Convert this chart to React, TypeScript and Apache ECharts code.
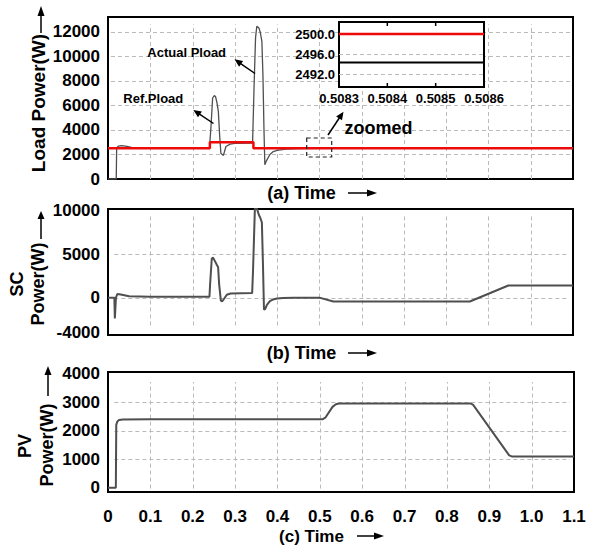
import React, { useEffect, useRef } from "react";
import * as echarts from "echarts";

// ---------- data ----------
const loadTime = [0, 0.0195, 0.0205, 0.025, 0.032, 0.045, 0.06, 0.08, 0.24, 0.2435, 0.2475, 0.2515, 0.2545, 0.258, 0.261, 0.264, 0.267, 0.273, 0.279, 0.289, 0.3, 0.342, 0.3455, 0.349, 0.352, 0.357, 0.36, 0.364, 0.3665, 0.369, 0.371, 0.375, 0.383, 0.391, 0.4, 0.42, 0.45, 0.5, 1.1];
const loadActual = [0, 0, 2550, 2680, 2720, 2650, 2540, 2510, 2500, 4200, 6600, 6800, 6700, 6190, 5510, 3600, 2100, 1920, 2650, 2840, 2900, 2920, 7500, 11500, 12450, 12300, 11980, 11220, 8500, 4000, 1160, 1500, 2000, 2240, 2330, 2430, 2480, 2494, 2494];
const refTime = [0, 0.241, 0.241, 0.344, 0.344, 1.1];
const refPload = [2500, 2500, 3000, 3000, 2500, 2500];

const scTime = [0, 0.015, 0.0162, 0.0175, 0.0188, 0.022, 0.03, 0.05, 0.1, 0.24, 0.2415, 0.2455, 0.2485, 0.253, 0.257, 0.2605, 0.263, 0.267, 0.27, 0.275, 0.281, 0.29, 0.341, 0.343, 0.3475, 0.352, 0.357, 0.36, 0.364, 0.3665, 0.369, 0.372, 0.376, 0.383, 0.39, 0.4, 0.414, 0.44, 0.5, 0.533, 0.856, 0.947, 1.1];
const scPower = [0, 0, -2400, -2400, 0, 420, 350, 150, 100, 100, 1500, 4500, 4600, 4200, 3810, 3500, 1500, -350, -440, -100, 340, 480, 520, 3000, 10300, 10300, 9500, 9220, 8640, 4000, -1400, -1300, -820, -400, -220, -100, -50, 0, 0, -450, -450, 1400, 1400];

const pvTime = [0, 0.0185, 0.0195, 0.022, 0.026, 0.035, 0.1, 0.507, 0.513, 0.53, 0.538, 0.545, 0.856, 0.862, 0.947, 0.953, 0.96, 1.1];
const pvPower = [0, 0, 2200, 2320, 2370, 2390, 2400, 2400, 2450, 2830, 2920, 2950, 2950, 2900, 1130, 1095, 1090, 1090];

const insetTime = [0.5083, 0.5086];
const insetRef = [2500, 2500];
const insetActual = [2494.3, 2494.3];

// ---------- tick labels / grid values ----------
const loadTicks = [0, 2000, 4000, 6000, 8000, 10000, 12000];
const loadGridVals = [2000, 4000, 6000, 8000, 10000, 12000];
const scTicks = [-4000, 0, 5000, 10000];
const scGridVals = [0, 5000];
const pvTicks = [0, 1000, 2000, 3000, 4000];
const pvGridVals = [1000, 2000, 3000];
const insetYTicks = [2492, 2496, 2500];
const insetGridVals = [2492, 2496];
const insetXTicks = [0.5084, 0.5085];
const timeTicks = [0, 0.1, 0.2, 0.3, 0.4, 0.5, 0.6, 0.7, 0.8, 0.9, 1.0, 1.1];
const timeGridVals = [0.1, 0.2, 0.3, 0.4, 0.5, 0.6, 0.7, 0.8, 0.9, 1.0];

const FONT = '"Liberation Sans", Arial, Helvetica, sans-serif';
const GRID_COLOR = "#bababa";
const TRACE = "#4f4f4f";
const RED = "#ee0a0a";

const zip = (xs: number[], ys: number[]) => xs.map((x, i) => [x, ys[i]]);
const has = (arr: number[], v: number) => arr.some((t) => Math.abs(t - v) < 1e-7);

function arrow(x1: number, y1: number, x2: number, y2: number, head = 8, half = 3.5, lw = 1.5) {
  const dx = x2 - x1, dy = y2 - y1;
  const len = Math.hypot(dx, dy);
  const ux = dx / len, uy = dy / len;
  const bx = x2 - ux * head, by = y2 - uy * head;
  const nx = -uy, ny = ux;
  return [
    { type: "line", z: 90, silent: true, shape: { x1, y1, x2: bx + ux, y2: by + uy }, style: { stroke: "#000", lineWidth: lw } },
    {
      type: "polygon", z: 90, silent: true,
      shape: { points: [[x2, y2], [bx + nx * half, by + ny * half], [bx - nx * half, by - ny * half]] },
      style: { fill: "#000" },
    },
  ];
}

function txt(text: string, x: number, y: number, size: number, rotation = 0) {
  return {
    type: "text", z: 90, x, y, rotation, silent: true,
    style: { text, fill: "#000", font: `bold ${size}px ${FONT}`, align: "center", verticalAlign: "middle" },
  };
}

const mainX = (gridIndex: number, showLabels: boolean) => ({
  type: "value", gridIndex, min: 0, max: 1.1, interval: 0.1,
  axisLine: { show: false }, axisTick: { show: false },
  axisLabel: {
    show: showLabels, margin: 16, color: "#000", fontWeight: "bold", fontSize: 17, fontFamily: FONT,
    formatter: (v: number) => (has(timeTicks, v) ? (v === 0 ? "0" : v.toFixed(1)) : ""),
  },
  splitLine: { show: false },
});

const yLab = (ticks: number[], fmt: (v: number) => string = (v) => String(v)) => ({
  show: true, margin: 8, color: "#000", fontWeight: "bold", fontSize: 17, fontFamily: FONT,
  formatter: (v: number) => (has(ticks, v) ? fmt(Math.round(v * 10) / 10) : ""),
});

const annotations = [
  // y-axis titles
  txt("Load Power(W)", 38, 103, 19, Math.PI / 2),
  ...arrow(41, 33, 41, 6, 10, 3.5, 1.5),
  txt("SC", 17, 284, 18, Math.PI / 2),
  txt("Power(W)", 38, 284, 18, Math.PI / 2),
  ...arrow(41, 239, 41, 211, 8, 3.5, 1.5),
  txt("PV", 25, 446, 18, Math.PI / 2),
  txt("Power(W)", 46.5, 445, 18, Math.PI / 2),
  ...arrow(48, 396, 48, 366, 9, 3.5, 1.5),
  // x-axis titles
  txt("(a) Time", 301.5, 193, 18),
  ...arrow(348, 193, 377, 193, 10, 3.5, 1.5),
  txt("(b) Time", 301.5, 353, 18),
  ...arrow(348, 353, 377, 353, 10, 3.5, 1.5),
  txt("(c) Time", 311.5, 536, 17),
  ...arrow(357, 536, 384, 536, 10, 3.5, 1.5),
  // annotations
  txt("Actual Pload", 186.7, 52.5, 13),
  ...arrow(255, 73.5, 234.5, 59.3, 8, 3.5, 1.5),
  txt("Ref.Pload", 153.3, 98.5, 13),
  ...arrow(213.5, 123.5, 193.3, 110, 8, 3.5, 1.5),
  txt("zoomed", 378.5, 128, 18),
  ...arrow(328, 135, 343.5, 111.7, 8, 3.5, 1.5),
  {
    type: "rect", z: 90, silent: true,
    shape: { x: 306.7, y: 138, width: 25, height: 19 },
    style: { fill: "none", stroke: "#222", lineWidth: 1.2, lineDash: [4, 3] },
  },
];

export default function App() {
  const ref = useRef<HTMLDivElement>(null);
  useEffect(() => {
    if (!ref.current) return;
    const chart = echarts.init(ref.current, null, { renderer: "svg" });
    const border = { show: true, borderColor: "#000", borderWidth: 2 };
    const option: any = {
      animation: false,
      textStyle: { fontFamily: FONT },
      grid: [
        { left: 108, top: 17, width: 465, height: 162, ...border },
        { left: 108, top: 209, width: 465, height: 126, ...border },
        { left: 108, top: 372, width: 466, height: 120, ...border },
        { left: 339, top: 22, width: 145, height: 65, show: true, borderColor: "#000", borderWidth: 2, backgroundColor: "#fff", z: 70 },
      ],
      xAxis: [
        mainX(0, false),
        mainX(1, false),
        mainX(2, true),
        {
          type: "value", gridIndex: 3, min: 0.5083, max: 0.5086, interval: 0.0001, z: 71,
          axisLine: { show: false }, axisTick: { show: false },
          axisLabel: { show: true, margin: 5, color: "#000", fontWeight: "bold", fontSize: 13, fontFamily: FONT, formatter: (v: number) => v.toFixed(4) },
          splitLine: { show: false },
        },
      ],
      yAxis: [
        {
          type: "value", gridIndex: 0, min: 0, max: 13200, interval: 2000,
          axisLine: { show: false }, axisTick: { show: false },
          axisLabel: yLab(loadTicks),
          splitLine: { show: false },
        },
        {
          type: "value", gridIndex: 1, min: -4300, max: 10200, interval: 100,
          axisLine: { show: false }, axisTick: { show: false },
          axisLabel: yLab(scTicks),
          splitLine: { show: false },
        },
        {
          type: "value", gridIndex: 2, min: -150, max: 4050, interval: 50,
          axisLine: { show: false }, axisTick: { show: false },
          axisLabel: yLab(pvTicks),
          splitLine: { show: false },
        },
        {
          type: "value", gridIndex: 3, min: 2489.4, max: 2502.4, interval: 0.2, z: 71,
          axisLine: { show: false }, axisTick: { show: false },
          axisLabel: { ...yLab(insetYTicks, (v) => v.toFixed(1)), fontSize: 13, margin: 4 },
          splitLine: { show: false },
        },
      ],
      series: [
        {
          type: "line", name: "Actual Pload", xAxisIndex: 0, yAxisIndex: 0, z: 60,
          showSymbol: false, symbol: "none",
          lineStyle: { color: TRACE, width: 1.3 },
          data: zip(loadTime, loadActual),
        },
        {
          type: "line", name: "Ref.Pload", xAxisIndex: 0, yAxisIndex: 0, z: 61,
          showSymbol: false, symbol: "none",
          lineStyle: { color: RED, width: 2.5 },
          data: zip(refTime, refPload),
        },
        {
          type: "line", name: "SC Power", xAxisIndex: 1, yAxisIndex: 1, z: 60,
          showSymbol: false, symbol: "none",
          lineStyle: { color: TRACE, width: 2 },
          data: zip(scTime, scPower),
        },
        {
          type: "line", name: "PV Power", xAxisIndex: 2, yAxisIndex: 2, z: 60,
          showSymbol: false, symbol: "none",
          lineStyle: { color: TRACE, width: 2 },
          data: zip(pvTime, pvPower),
        },
        {
          type: "line", name: "Inset Ref", xAxisIndex: 3, yAxisIndex: 3, z: 80,
          showSymbol: false, symbol: "none",
          lineStyle: { color: RED, width: 2.5 },
          data: zip(insetTime, insetRef),
        },
        {
          type: "line", name: "Inset Actual", xAxisIndex: 3, yAxisIndex: 3, z: 80,
          showSymbol: false, symbol: "none",
          lineStyle: { color: "#000", width: 2 },
          data: zip(insetTime, insetActual),
        },
      ],
    };
    chart.setOption(option);

    // gridlines and inset ticks, placed through the chart's own scales
    let gridGraphics: any[] = [];
    try {
      const px = (g: number, x: number, y: number) => chart.convertToPixel({ gridIndex: g }, [x, y]) as number[];
      const snap = (v: number) => Math.round(v) + 0.5;
      const line = (a: number[], b: number[], z: number, stroke: string, w: number, dash: boolean) => ({
        type: "line", z, silent: true,
        shape: { x1: a[0], y1: a[1], x2: b[0], y2: b[1] },
        style: dash ? { stroke, lineWidth: w, lineDash: [4, 3] } : { stroke, lineWidth: w },
      });
      const h = (g: number, vals: number[], x0: number, x1: number, z = 50) =>
        vals.map((v) => {
          const a = px(g, x0, v), b = px(g, x1, v);
          const y = snap(a[1]);
          return line([a[0], y], [b[0], y], z, GRID_COLOR, 1, true);
        });
      const vv = (g: number, vals: number[], y0: number, y1: number, z = 50) =>
        vals.map((v) => {
          const a = px(g, v, y0), b = px(g, v, y1);
          const x = snap(a[0]);
          return line([x, a[1]], [x, b[1]], z, GRID_COLOR, 1, true);
        });
      gridGraphics = [
        ...h(0, loadGridVals, 0.007, 1.1),
        ...vv(0, timeGridVals, 0, 12600),
        ...h(1, scGridVals, 0.015, 1.09),
        ...vv(1, timeGridVals, -3200, 9700),
        ...h(2, pvGridVals, 0.015, 1.09),
        ...vv(2, timeGridVals, -30, 3700),
        ...h(3, insetGridVals, 0.5083, 0.5086, 75),
        ...insetXTicks.map((v) => line(px(3, v, 2489.4), px(3, v, 2490.2), 75, "#000", 1.5, false)),
        ...insetXTicks.map((v) => line(px(3, v, 2501.6), px(3, v, 2502.4), 75, "#000", 1.5, false)),
      ].filter((e: any) => [e.shape.x1, e.shape.y1, e.shape.x2, e.shape.y2].every((n: any) => typeof n === "number" && isFinite(n)));
    } catch (e) {
      gridGraphics = [];
    }
    chart.setOption({ graphic: [...gridGraphics, ...annotations] });
    return () => chart.dispose();
  }, []);
  return (
    <div style={{ position: "absolute", left: 0, top: 0, width: 592, height: 546, background: "#fff" }}>
      <div ref={ref} style={{ width: 592, height: 546 }} />
    </div>
  );
}
